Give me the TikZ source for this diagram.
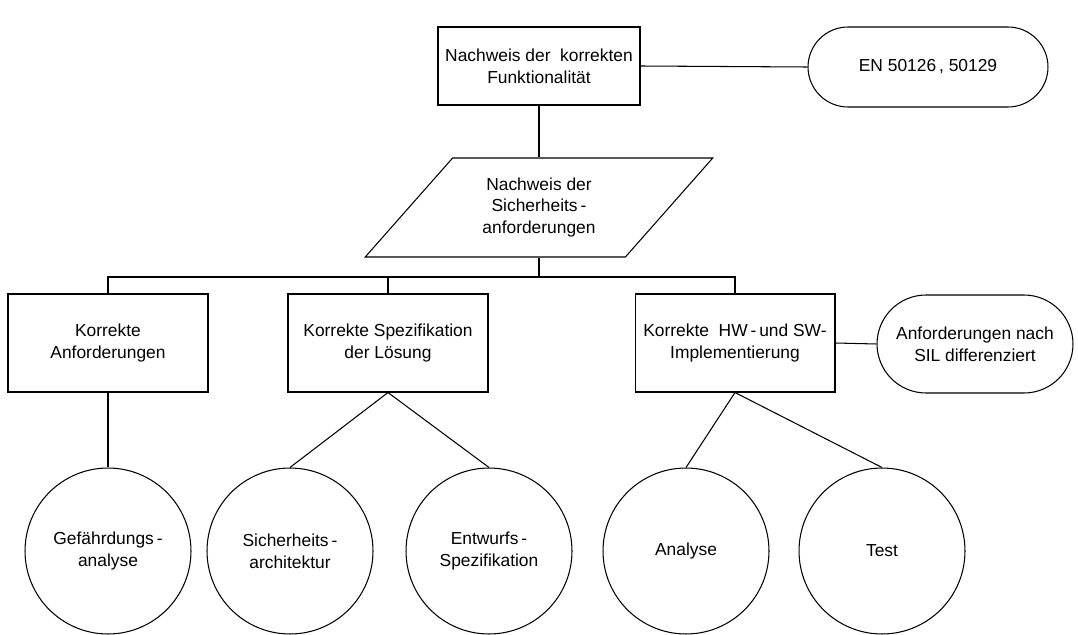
\documentclass[tikz,border=0pt]{standalone}
\usepackage{fontspec}
\setmainfont{Liberation Sans}
\usetikzlibrary{shapes,shapes.geometric,positioning,calc}

\begin{document}
\begin{tikzpicture}[
      x=0.02cm, y=-0.02cm,
      every node/.style={font=\fontsize{9.9}{12.5}\selectfont},
      box/.style={rectangle, draw, line width=0.6pt,
                  minimum width=4cm, minimum height=1.96cm,
                  align=center, inner sep=2pt},
      pill/.style={box, rounded corners=0.98cm},
      para/.style={trapezium, draw, line width=0.6pt,
                   trapezium left angle=48.7, trapezium right angle=131.3,
                   trapezium stretches=true,
                   minimum width=6.96cm, minimum height=1.98cm, align=center},
      bubble/.style={circle, draw, line width=0.6pt,
                     minimum size=3.32cm, inner sep=0pt, align=center},
      link/.style={line width=0.6pt},
    ]
    \useasboundingbox (0,0) rectangle (1078,635);

    % Top: overall goal + standards
    \node[box, minimum width=4.04cm, minimum height=1.56cm] (goal) at (539,66)
      {Nachweis der\ \ korrekten\\Funktionalit\"at};
    \node[pill, minimum width=4.8cm, minimum height=1.6cm,
          rounded corners=0.8cm] (norm) at (928,67) {EN 50126\,, 50129};

    % Middle: safety requirements
    \node[para] (safety) at (539,207.5)
      {Nachweis der\\Sicherheits\,-\\anforderungen};
    \coordinate (bus) at (539,277);

    % Row 3: the three aspects
    \node[box] (req)  at (108,343) {Korrekte\\Anforderungen};
    \node[box] (spec) at (388,343) {Korrekte Spezifikation\\der L\"osung};
    \node[box] (impl) at (735,343) {Korrekte\ \ HW\,-\,und SW-\\Implementierung};
    \node[pill, minimum width=3.92cm] (sil) at (975,344)
      {Anforderungen nach\\SIL differenziert};

    % Row 4: methods
    \node[bubble] (haz)  at (108,551) {Gef\"ahrdungs\,-\\analyse};
    \node[bubble] (arch) at (290,551) {Sicherheits\,-\\architektur};
    \node[bubble] (dspec) at (489,551) {Entwurfs\,-\\Spezifikation};
    \node[bubble] (ana)  at (686,551) {Analyse};
    \node[bubble] (test) at (882,551) {Test};

    % Lines: top part
    \draw[link] (goal.east) -- (norm.west);
    \draw[link] (goal.south) -- (goal.south |- safety.north);
    \draw[link] (bus |- safety.south) -- (bus);

    % Lines: bus to the three boxes
    \draw[link] (req.north) |- (bus) -| (impl.north);
    \draw[link] (spec.north) -- (spec.north |- bus);
    \draw[link] (impl.east) -- (sil.west);

    % Lines: boxes to methods
    \draw[link] (req.south) -- (haz.north);
    \draw[link] (spec.south) -- (arch.north);
    \draw[link] (spec.south) -- (dspec.north);
    \draw[link] (impl.south) -- (ana.north);
    \draw[link] (impl.south) -- (test.north);

\end{tikzpicture}
\end{document}
